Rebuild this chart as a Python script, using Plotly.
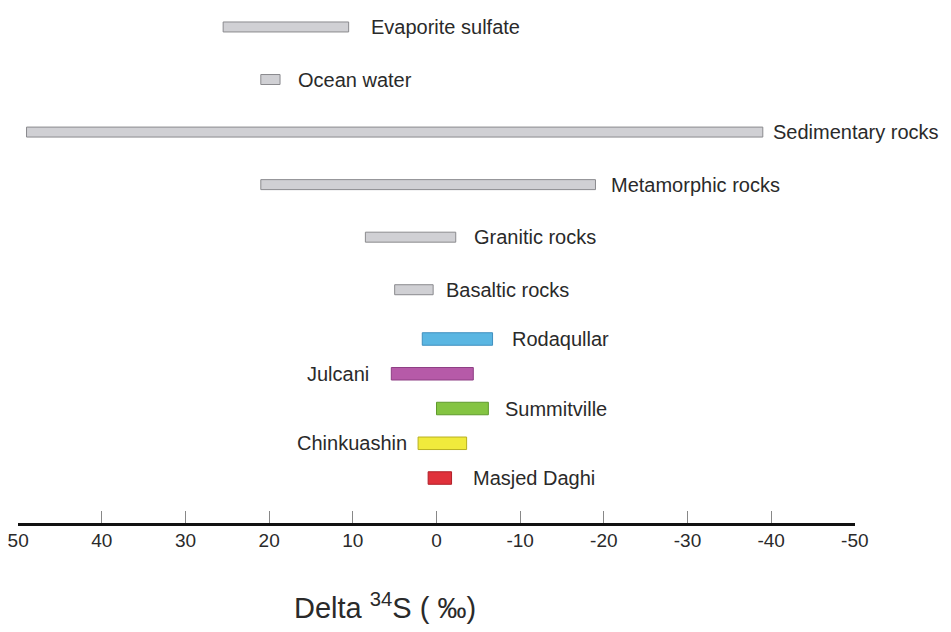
import plotly.graph_objects as go

# ---- data ----
reservoirs = ["Evaporite sulfate", "Ocean water", "Sedimentary rocks",
              "Metamorphic rocks", "Granitic rocks", "Basaltic rocks"]
reservoir_start = [25.5, 21.0, 49.0, 21.0, 8.5, 5.0]
reservoir_end = [10.5, 18.7, -39.0, -19.0, -2.3, 0.4]

deposits = ["Rodaqullar", "Julcani", "Summitville", "Chinkuashin", "Masjed Daghi"]
deposit_start = [1.7, 5.4, 0.0, 2.2, 1.0]
deposit_end = [-6.7, -4.4, -6.2, -3.6, -1.8]

tick_values = [50, 40, 30, 20, 10, 0, -10, -20, -30, -40, -50]
tick_labels = ["50", "40", "30", "20", "10", "0", "-10", "-20", "-30", "-40", "-50"]

# ---- styles ----
gray_fill = "#d0d0d4"
gray_line = "#8a8a8e"
deposit_colors = ["#5ab6e2", "#b65aa8", "#84c442", "#f0ea3c", "#e0313b"]
deposit_lines = ["#3f8fbf", "#8e3f84", "#5f9a2c", "#b8b020", "#b01f28"]
reservoir_gap = [20, 16, 8, 14, 16, 11]
deposit_side = ["right", "left", "right", "left", "right"]
deposit_gap = [17, 20, 15, 9, 19]
font_family = "Liberation Sans, Arial, sans-serif"
text_color = "#2a2a2a"
label_size = 20

fig = go.Figure()
fig.add_trace(go.Bar(
    y=reservoirs, base=reservoir_start,
    x=[e - s for s, e in zip(reservoir_start, reservoir_end)],
    orientation="h", width=0.19,
    marker=dict(color=gray_fill, line=dict(color=gray_line, width=1)),
    yaxis="y", showlegend=False, hoverinfo="skip"))
fig.add_trace(go.Bar(
    y=deposits, base=deposit_start,
    x=[e - s for s, e in zip(deposit_start, deposit_end)],
    orientation="h", width=0.36,
    marker=dict(color=deposit_colors, line=dict(color=deposit_lines, width=1)),
    yaxis="y2", showlegend=False, hoverinfo="skip"))

annotations = []
for name, end, gap in zip(reservoirs, reservoir_end, reservoir_gap):
    annotations.append(dict(x=end, y=name, xref="x", yref="y", text=name,
                            showarrow=False, xanchor="left", xshift=gap,
                            font=dict(size=label_size, color=text_color, family=font_family)))
for name, s, e, side, gap in zip(deposits, deposit_start, deposit_end, deposit_side, deposit_gap):
    if side == "right":
        annotations.append(dict(x=e, y=name, xref="x", yref="y2", text=name,
                                showarrow=False, xanchor="left", xshift=gap,
                                font=dict(size=label_size, color=text_color, family=font_family)))
    else:
        annotations.append(dict(x=s, y=name, xref="x", yref="y2", text=name,
                                showarrow=False, xanchor="right", xshift=-gap,
                                font=dict(size=label_size, color=text_color, family=font_family)))

annotations.append(dict(x=0.4385, y=0, xref="paper", yref="paper",
                        text="Delta <sup>34</sup>S ( ‰)", showarrow=False,
                        xanchor="center", yanchor="middle", yshift=-82,
                        font=dict(size=29, color=text_color, family=font_family)))

fig.update_layout(
    width=951, height=632,
    margin=dict(l=10, r=104, t=0, b=116),
    plot_bgcolor="white", paper_bgcolor="white",
    barmode="overlay",
    annotations=annotations,
    xaxis=dict(range=[50.02, -50.02], tickvals=tick_values, ticktext=tick_labels,
               anchor="free", position=0,
               showgrid=False, zeroline=False,
               showline=True, linecolor="#111111", linewidth=3,
               ticks="inside", ticklen=12, tickwidth=1, tickcolor="#888888",
               ticklabelstandoff=-2, ticklabeloverflow="allow",
               tickfont=dict(size=19, color=text_color, family=font_family)),
    yaxis=dict(domain=[0.4031, 1.0], visible=False, categoryorder="array",
               categoryarray=reservoirs, range=[5.5, -0.361], fixedrange=True),
    yaxis2=dict(domain=[0.0554, 0.3922], visible=False, categoryorder="array",
                categoryarray=deposits, range=[4.5, -0.5], anchor="x", fixedrange=True),
)

fig.write_html("out.html")
